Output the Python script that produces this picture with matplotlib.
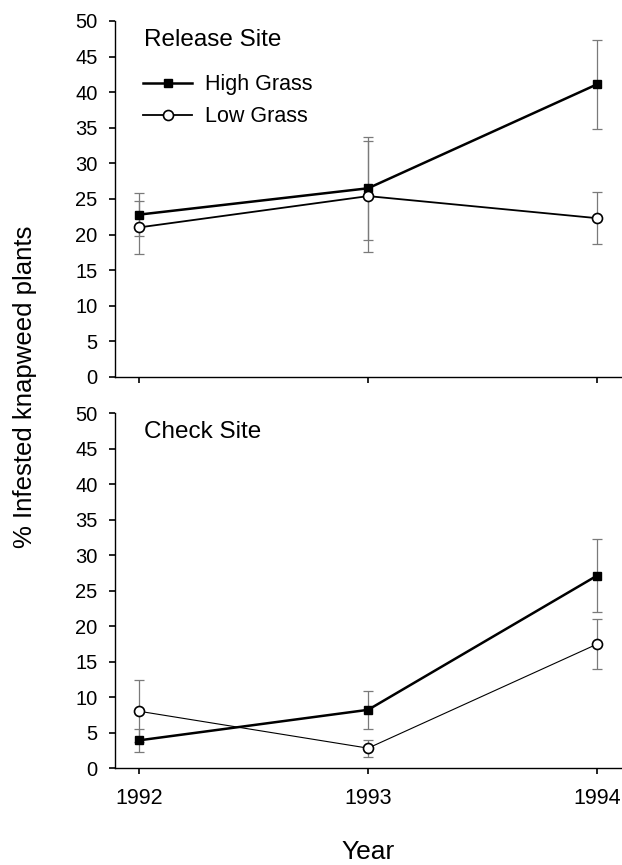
import matplotlib
matplotlib.use("Agg")
import matplotlib.pyplot as plt

plt.rcParams['font.family'] = ['Liberation Sans', 'DejaVu Sans']

years = [1992, 1993, 1994]

# Release site
release_high = [22.8, 26.5, 41.1]
release_high_err = [3.0, 7.2, 6.25]
release_low = [21.0, 25.4, 22.3]
release_low_err = [3.7, 7.8, 3.65]

# Check site
check_high = [3.9, 8.2, 27.1]
check_high_err = [1.65, 2.65, 5.1]
check_low = [8.0, 2.8, 17.45]
check_low_err = [4.4, 1.2, 3.55]

fig = plt.figure(figsize=(6.22, 8.65), dpi=100)
ax1 = fig.add_axes([0.185, 0.5642, 0.815, 0.4116])
ax2 = fig.add_axes([0.185, 0.1121, 0.815, 0.4104])


def draw_panel(ax, high, high_err, low, low_err, title, low_lw):
    ax.errorbar(years, high, yerr=high_err, fmt='none', ecolor='#7a7a7a',
                elinewidth=0.9, capsize=3.5, capthick=0.9, zorder=2)
    ax.errorbar(years, low, yerr=low_err, fmt='none', ecolor='#7a7a7a',
                elinewidth=0.9, capsize=3.5, capthick=0.9, zorder=2)
    ax.plot(years, high, color='black', lw=1.8, marker='s', ms=6.3,
            mfc='black', mec='black', label='High Grass', zorder=3)
    ax.plot(years, low, color='black', lw=low_lw, marker='o', ms=7.2,
            mfc='white', mec='black', mew=1.2, label='Low Grass', zorder=4)
    ax.set_xlim(1991.895, 1994.109)
    ax.set_ylim(0, 50)
    ax.set_yticks(range(0, 51, 5))
    ax.set_xticks(years)
    ax.spines['top'].set_visible(False)
    ax.spines['right'].set_visible(False)
    for s in ('left', 'bottom'):
        ax.spines[s].set_linewidth(1.0)
    ax.tick_params(axis='y', direction='out', length=4.5, width=1.2,
                   labelsize=14.5, pad=8)
    ax.tick_params(axis='x', direction='out', length=4.5, width=1.2,
                   labelsize=15.5, pad=10)
    ax.text(1992.02, 47.3, title, fontsize=17.5, va='center', ha='left')


draw_panel(ax1, release_high, release_high_err, release_low, release_low_err,
           'Release Site', 1.3)
draw_panel(ax2, check_high, check_high_err, check_low, check_low_err,
           'Check Site', 0.8)

ax1.tick_params(axis='x', labelbottom=False)
ax1.legend(loc='upper left', bbox_to_anchor=(0.055, 0.85), frameon=False,
           fontsize=15.5, handlelength=2.3, borderpad=0, borderaxespad=0,
           labelspacing=0.5, handletextpad=0.6)

fig.text(368 / 622, 1 - 852 / 865, 'Year', fontsize=19,
         ha='center', va='center')
fig.text(0.040, 0.553, '% Infested knapweed plants', rotation=90,
         fontsize=18.5, ha='center', va='center')

fig.savefig('out.png', dpi=100)
